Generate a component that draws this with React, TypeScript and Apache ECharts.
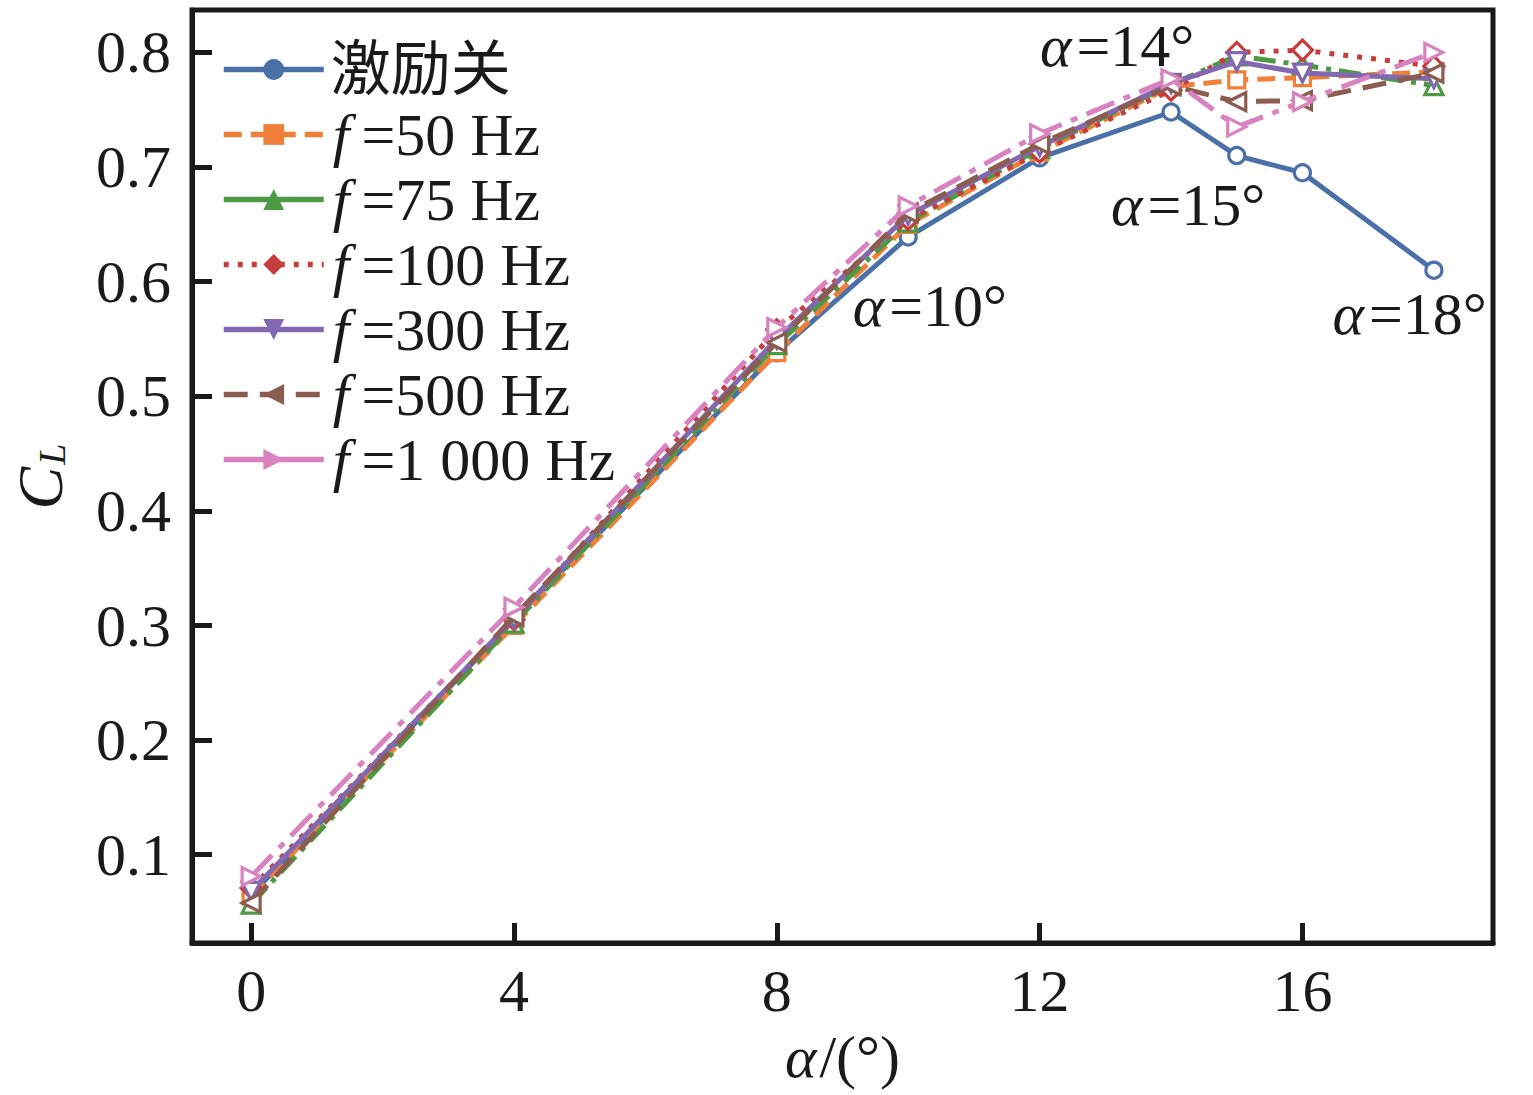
import React, { useEffect, useRef } from "react";
import * as echarts from "echarts";

const alphas = [0, 4, 8, 10, 12, 14, 15, 16, 18];
const xTicks = [0, 4, 8, 12, 16];
const yTicks = [0.1, 0.2, 0.3, 0.4, 0.5, 0.6, 0.7, 0.8];

const seriesNames = ["激励关", "f=50 Hz", "f=75 Hz", "f=100 Hz", "f=300 Hz", "f=500 Hz", "f=1 000 Hz"];
const off = [0.065, 0.305, 0.538, 0.639, 0.708, 0.748, 0.71, 0.695, 0.61];
const f50 = [0.064, 0.3, 0.538, 0.65, 0.713, 0.77, 0.776, 0.778, 0.783];
const f75 = [0.057, 0.302, 0.545, 0.652, 0.716, 0.772, 0.797, 0.789, 0.771];
const f100 = [0.071, 0.305, 0.558, 0.654, 0.713, 0.767, 0.8, 0.802, 0.788];
const f300 = [0.068, 0.306, 0.55, 0.658, 0.718, 0.773, 0.792, 0.782, 0.777];
const f500 = [0.058, 0.308, 0.547, 0.66, 0.72, 0.771, 0.757, 0.758, 0.782];
const f1000 = [0.081, 0.316, 0.56, 0.666, 0.729, 0.777, 0.735, 0.757, 0.8];
const seriesValues = [off, f50, f75, f100, f300, f500, f1000];

const annotations = [
  { text: "=14°", coord: [13.18, 0.806] },
  { text: "=15°", coord: [14.26, 0.667] },
  { text: "=10°", coord: [10.33, 0.579] },
  { text: "=18°", coord: [17.63, 0.572] },
];

const colors = ["#4A70A8", "#F07F3A", "#4E9A44", "#C53D3D", "#8268B0", "#8A5D50", "#D882C0"];
const symbols = ["circle", "rect", "triangle", "diamond", "triangle", "triangle", "triangle"];
const rotates = [0, 0, 0, 0, 180, 90, -90];
const dashes: any[] = ["solid", [18, 9], [22, 8, 5, 8], [5, 9], "solid", [24, 12], [30, 10, 7, 10]];
const legendDashes: any[] = ["solid", [18, 9], "solid", [5, 9], "solid", [24, 12], "solid"];

const SERIF = "Liberation Serif, Noto Sans CJK SC, serif";
const INK = "#1a1a1a";

export default function App() {
  const ref = useRef<HTMLDivElement>(null);
  useEffect(() => {
    document.body.style.margin = "0";
    document.body.style.overflow = "hidden";
    const chart = echarts.init(ref.current!, null, { renderer: "svg" });
    const series: any[] = seriesNames.map((name, i) => ({
      name,
      type: "line",
      data: alphas.map((a, j) => [a, seriesValues[i][j]]),
      symbol: symbols[i],
      symbolRotate: rotates[i],
      symbolSize: symbols[i] === "diamond" ? 20 : symbols[i] === "triangle" ? 18 : 16,
      showSymbol: true,
      lineStyle: { color: colors[i], width: 5, type: dashes[i] },
      itemStyle: { color: "#ffffff", borderColor: colors[i], borderWidth: 3.2 },
      z: 2 + i,
    }));
    series.push({
      type: "scatter",
      data: [],
      silent: true,
      markPoint: {
        symbol: "circle",
        symbolSize: 0,
        silent: true,
        label: {
          show: true,
          position: "inside",
          formatter: (p: any) => `{a|α}{b|${p.name}}`,
          rich: {
            a: { fontFamily: SERIF, fontSize: 60, fontStyle: "italic", color: INK, padding: [0, 5, 0, 0] },
            b: { fontFamily: SERIF, fontSize: 60, color: INK },
          },
        },
        data: annotations.map((a) => ({ name: a.text, coord: a.coord })),
      },
    });
    chart.setOption({
      animation: false,
      backgroundColor: "#ffffff",
      color: colors,
      grid: {
        left: 192,
        right: 40,
        top: 10,
        bottom: 152,
        outerBoundsMode: "none",
        containLabel: false,
        show: true,
        borderColor: INK,
        borderWidth: 5,
        backgroundColor: "transparent",
      },
      legend: {
        orient: "vertical",
        left: 216,
        top: 34,
        itemWidth: 100,
        itemHeight: 26,
        itemGap: 4,
        symbolRotate: "inherit",
        textStyle: {
          fontFamily: SERIF,
          fontSize: 60,
          color: INK,
          lineHeight: 61,
          rich: {
            i: {
              fontFamily: SERIF,
              fontSize: 60,
              fontStyle: "italic",
              color: INK,
              lineHeight: 61,
              padding: [0, 12, 0, 4],
            },
            n: { fontFamily: SERIF, fontSize: 60, color: INK, lineHeight: 61 },
            c: { fontFamily: SERIF, fontSize: 60, color: INK, lineHeight: 61, padding: [0, 0, 0, 2] },
          },
        },
        formatter: (name: string) =>
          name.startsWith("f=") ? `{i|f}{n|${name.slice(1)}}` : `{c|${name}}`,
        data: seriesNames.map((name, i) => ({
          name,
          itemStyle: { color: colors[i], borderColor: colors[i], borderWidth: 0 },
          lineStyle: { color: colors[i], width: 5.5, type: legendDashes[i] },
        })),
      },
      xAxis: {
        type: "value",
        min: -0.9,
        max: 18.9,
        name: "{a|α}{b|/(°)}",
        nameLocation: "middle",
        nameGap: 84,
        nameTextStyle: {
          rich: {
            a: { fontFamily: SERIF, fontSize: 60, fontStyle: "italic", color: INK, padding: [0, 3, 0, 0] },
            b: { fontFamily: SERIF, fontSize: 60, color: INK },
          },
        },
        axisLine: { show: true, onZero: false, lineStyle: { color: INK, width: 5 } },
        axisTick: { show: true, inside: true, length: 20, customValues: xTicks, lineStyle: { color: INK, width: 5 } },
        axisLabel: {
          customValues: xTicks,
          margin: 18,
          fontFamily: SERIF,
          fontSize: 60,
          color: INK,
          formatter: (v: number) => String(v),
        },
        splitLine: { show: false },
      },
      yAxis: {
        type: "value",
        min: 0.023,
        max: 0.837,
        name: "{c|C}{s|L}",
        nameLocation: "middle",
        nameGap: 120,
        nameRotate: 90,
        nameTextStyle: {
          rich: {
            c: { fontFamily: SERIF, fontSize: 64, fontStyle: "italic", color: INK },
            s: { fontFamily: SERIF, fontSize: 38, fontStyle: "italic", color: INK, padding: [24, 0, 0, 2] },
          },
        },
        axisLine: { show: true, onZero: false, lineStyle: { color: INK, width: 5 } },
        axisTick: { show: true, inside: true, length: 20, customValues: yTicks, lineStyle: { color: INK, width: 5 } },
        axisLabel: {
          customValues: yTicks,
          margin: 21,
          fontFamily: SERIF,
          fontSize: 60,
          color: INK,
          formatter: (v: number) => v.toFixed(1),
        },
        splitLine: { show: false },
      },
      series,
    });
    return () => chart.dispose();
  }, []);
  return <div ref={ref} style={{ position: "absolute", left: 0, top: 0, width: 1533, height: 1095 }} />;
}
